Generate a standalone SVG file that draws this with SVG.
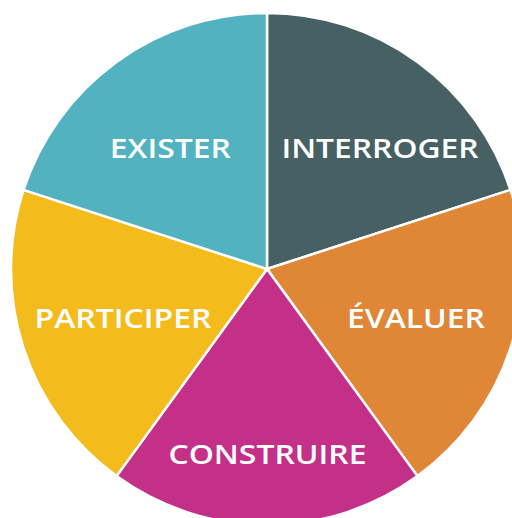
<svg xmlns="http://www.w3.org/2000/svg" width="512" height="518" viewBox="0 0 512 518">
<style>
.s{stroke:#fff;stroke-width:2.5;stroke-linejoin:round}
.t{fill:#fff;font-family:"Open Sans","Liberation Sans",sans-serif;font-weight:600;font-size:27px;text-anchor:middle}
</style>
<rect width="512" height="518" fill="#fff"/>
<g id="interroger">
<path class="s" fill="#476064" d="M267,269 L267,13 A256,256 0 0 1 510.47,189.89 Z"/>
<text class="t" x="380" y="157.7" textLength="197" lengthAdjust="spacingAndGlyphs">INTERROGER</text>
</g>
<g id="evaluer">
<path class="s" fill="#E08637" d="M267,269 L510.47,189.89 A256,256 0 0 1 417.47,476.11 Z"/>
<text class="t" x="416" y="328.3" textLength="138" lengthAdjust="spacingAndGlyphs">ÉVALUER</text>
</g>
<g id="construire">
<path class="s" fill="#C43088" d="M267,269 L417.47,476.11 A256,256 0 0 1 116.53,476.11 Z"/>
<text class="t" x="267.5" y="464" textLength="198" lengthAdjust="spacingAndGlyphs">CONSTRUIRE</text>
</g>
<g id="participer">
<path class="s" fill="#F3BC1C" d="M267,269 L116.53,476.11 A256,256 0 0 1 23.53,189.89 Z"/>
<text class="t" x="123" y="328.3" textLength="177" lengthAdjust="spacingAndGlyphs">PARTICIPER</text>
</g>
<g id="exister">
<path class="s" fill="#52B2BF" d="M267,269 L23.53,189.89 A256,256 0 0 1 267,13 Z"/>
<text class="t" x="170.3" y="157.7" textLength="121" lengthAdjust="spacingAndGlyphs">EXISTER</text>
</g>
<g id="connectors"></g>
</svg>
